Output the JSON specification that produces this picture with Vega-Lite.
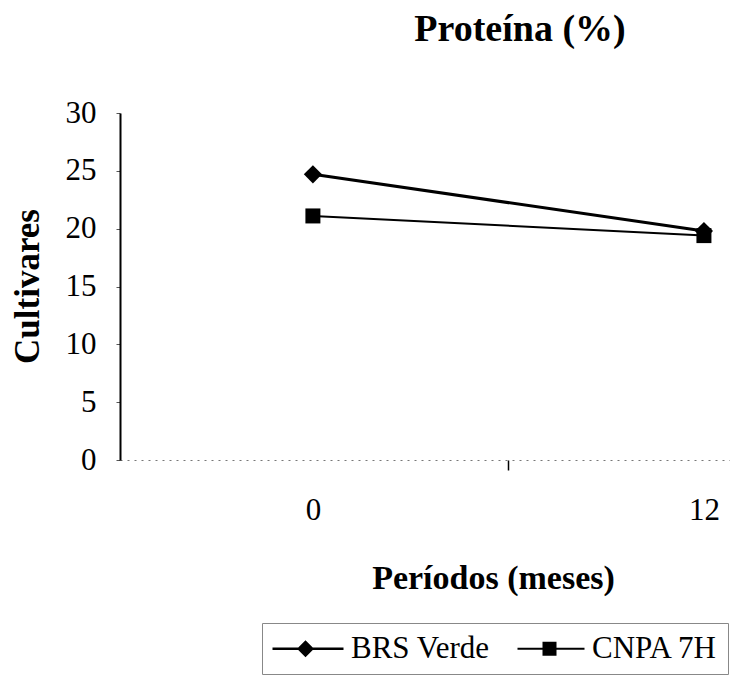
{
  "$schema": "https://vega.github.io/schema/vega-lite/v6.json",
  "width": 610,
  "height": 347,
  "autosize": {"type": "none"},
  "padding": {"left": 120, "top": 113, "right": 0, "bottom": 217},
  "background": "white",
  "config": {
    "view": {"stroke": null},
    "font": "Liberation Serif",
    "axis": {"labelFont": "Liberation Serif", "titleFont": "Liberation Serif"},
    "legend": {"labelFont": "Liberation Serif", "titleFont": "Liberation Serif"}
  },
  "title": {
    "text": "Proteína (%)",
    "font": "Liberation Serif",
    "fontSize": 38,
    "fontWeight": "bold",
    "color": "black",
    "anchor": "middle",
    "frame": "group",
    "dx": 95,
    "offset": 48
  },
  "data": {
    "values": [
      {"cultivar": "BRS Verde", "mes": 0, "valor": 24.7},
      {"cultivar": "BRS Verde", "mes": 12, "valor": 19.8},
      {"cultivar": "CNPA 7H", "mes": 0, "valor": 21.1},
      {"cultivar": "CNPA 7H", "mes": 12, "valor": 19.4}
    ]
  },
  "encoding": {
    "x": {
      "field": "mes",
      "type": "quantitative",
      "scale": {"domain": [-5.92, 12.8], "nice": false, "zero": false},
      "axis": {
        "values": [0, 6, 12],
        "labelExpr": "datum.value == 6 ? '' : datum.label",
        "tickOpacity": {"condition": {"test": "datum.value == 6", "value": 1}, "value": 0},
        "tickSize": 10,
        "tickColor": "black",
        "tickWidth": 1.5,
        "labelPadding": 25,
        "labelFontSize": 31,
        "labelColor": "black",
        "labelFont": "Liberation Serif",
        "labelFlush": false,
        "domainColor": "#777",
        "domainDash": [2, 5],
        "domainWidth": 1,
        "grid": false,
        "title": "Períodos (meses)",
        "titleFont": "Liberation Serif",
        "titleFontSize": 34,
        "titleFontWeight": "bold",
        "titleColor": "black",
        "titleX": 373,
        "titleY": 128,
        "titleAlign": "center",
        "titleBaseline": "alphabetic"
      }
    },
    "y": {
      "field": "valor",
      "type": "quantitative",
      "scale": {"domain": [0, 30], "nice": false},
      "axis": {
        "values": [0, 5, 10, 15, 20, 25, 30],
        "grid": false,
        "domainColor": "black",
        "domainWidth": 2,
        "tickSize": 4,
        "tickColor": "#555",
        "labelPadding": 20,
        "labelFontSize": 31,
        "labelColor": "black",
        "labelFont": "Liberation Serif",
        "title": "Cultivares",
        "titleFont": "Liberation Serif",
        "titleFontSize": 35,
        "titleFontWeight": "bold",
        "titleColor": "black",
        "titleX": -93,
        "titleY": 173,
        "titleAngle": -90,
        "titleAlign": "center",
        "titleBaseline": "middle"
      }
    }
  },
  "layer": [
    {
      "mark": {"type": "line", "color": "black"},
      "encoding": {
        "detail": {"field": "cultivar"},
        "strokeWidth": {"field": "cultivar", "type": "nominal", "scale": {"range": [3, 2]}, "legend": null}
      }
    },
    {
      "mark": {"type": "point", "filled": true, "color": "black", "opacity": 1},
      "encoding": {
        "shape": {"field": "cultivar", "type": "nominal", "scale": {"range": ["diamond", "square"]}, "legend": null},
        "size": {"field": "cultivar", "type": "nominal", "scale": {"range": [330, 225]}, "legend": null}
      }
    },
    {
      "mark": {"type": "point", "filled": true, "color": "black", "opacity": 0},
      "encoding": {
        "shape": {
          "field": "cultivar",
          "type": "nominal",
          "scale": {"range": ["M-1.5,-0.12H5.6V0.12H-1.5ZM1.8,-0.85L2.65,0L1.8,0.85L0.95,0Z", "M-1.1,-0.1H5.6V0.1H-1.1ZM1.4,-0.7H2.8V0.7H1.4Z"]},
          "legend": {
            "title": null,
            "orient": "none",
            "legendX": 142,
            "legendY": 510,
            "direction": "horizontal",
            "columns": 2,
            "columnPadding": 23,
            "labelFont": "Liberation Serif",
            "labelFontSize": 31,
            "labelColor": "black",
            "labelOffset": 48,
            "symbolSize": 400,
            "symbolStrokeWidth": 0,
            "symbolFillColor": "black",
            "symbolOpacity": 1,
            "padding": 10,
            "strokeColor": "#888",
            "fillColor": "white",
            "encode": {
              "symbols": {
                "update": {
                  "opacity": {"value": 1},
                  "fill": {"value": "black"}
                }
              }
            }
          }
        }
      }
    }
  ],
  "resolve": {"scale": {"shape": "independent", "size": "independent"}, "legend": {"shape": "independent"}}
}
